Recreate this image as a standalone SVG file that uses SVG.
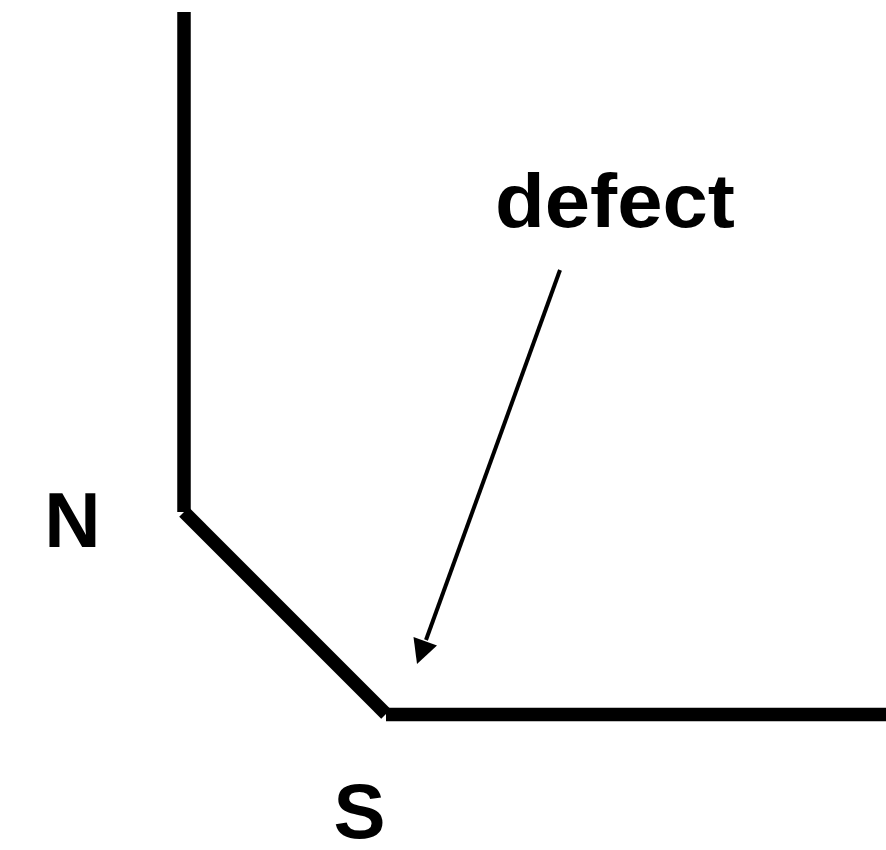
<svg xmlns="http://www.w3.org/2000/svg" width="886" height="850" viewBox="0 0 886 850">
  <style>
    .wall { stroke: #000; stroke-width: 13.5; fill: none; stroke-linecap: butt; }
    .lbl { font-family: "Liberation Sans", Arial, sans-serif; font-weight: bold; fill: #000; }
    .arrow { stroke: #000; stroke-width: 4; fill: none; }
    .head { fill: #000; stroke: none; }
  </style>
  <rect width="886" height="850" fill="#fff"/>
  <g id="walls">
    <line class="wall" x1="184" y1="12" x2="184" y2="512"/>
    <line class="wall" x1="184" y1="512" x2="386" y2="714"/>
    <line class="wall" x1="386" y1="714.5" x2="886" y2="714.5"/>
  </g>
  <g id="label-N">
    <text class="lbl" x="72.5" y="547" font-size="78" text-anchor="middle">N</text>
  </g>
  <g id="label-S">
    <text class="lbl" x="359.5" y="838" font-size="78" text-anchor="middle">S</text>
  </g>
  <g id="label-defect">
    <text class="lbl" x="495" y="227" font-size="76" textLength="240" lengthAdjust="spacingAndGlyphs">defect</text>
  </g>
  <g id="connectors">
    <line class="arrow" x1="560" y1="270" x2="426" y2="640"/>
    <polygon class="head" points="417,664 437,645.5 413.5,637"/>
  </g>
</svg>
